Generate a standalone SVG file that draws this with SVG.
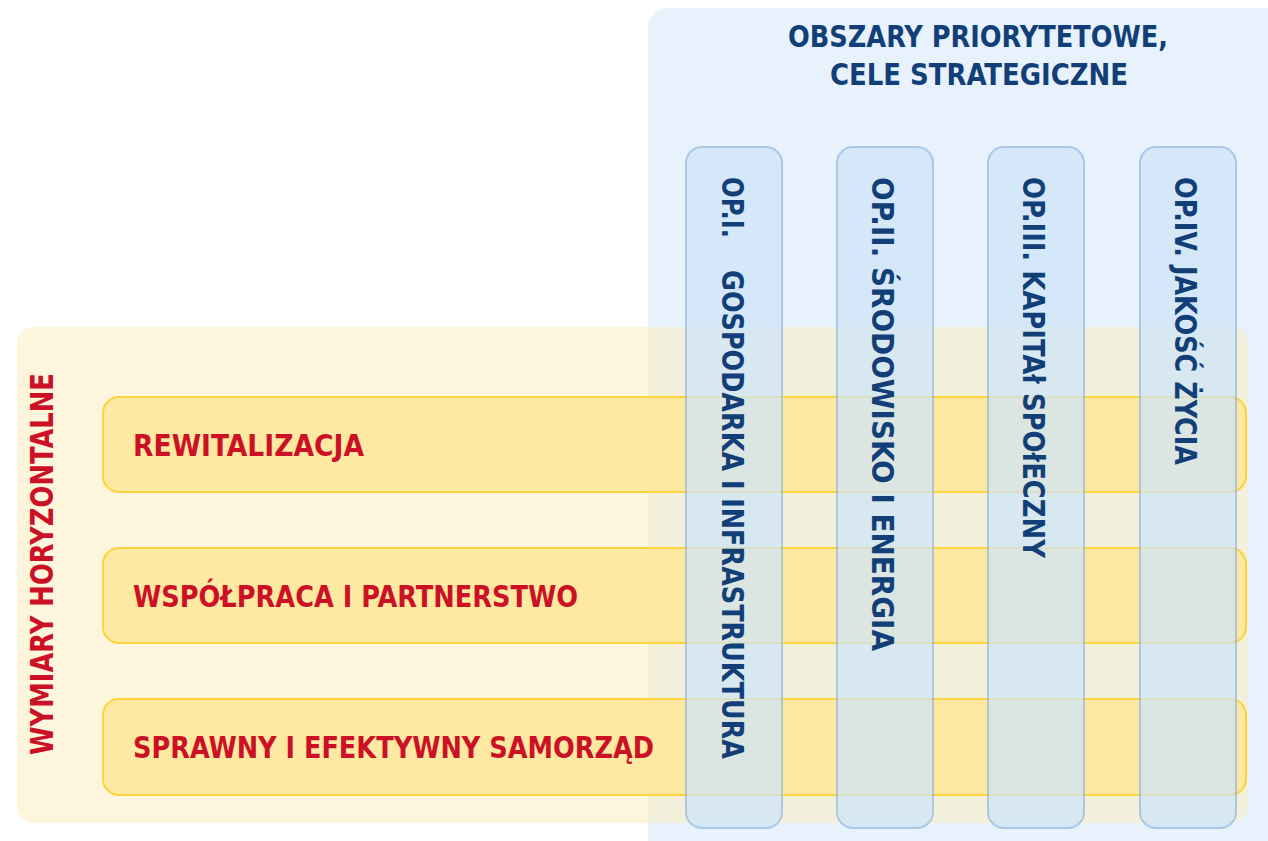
<svg xmlns="http://www.w3.org/2000/svg" width="1268" height="841" viewBox="0 0 1268 841">
<style>
.t{font-family:"DejaVu Sans Condensed","DejaVu Sans",sans-serif;font-weight:bold;font-stretch:condensed}
.blue{fill:#123f78}
.red{fill:#cc1126}
.band{fill:#fde89c;stroke:#fcd22e;stroke-width:2;opacity:0.92}
.col{fill:#cfe5fa;stroke:#94b8e0;stroke-width:2;opacity:0.72}
</style>
<rect width="1268" height="841" fill="#ffffff"/>
<g id="panel-obszary">
<rect x="648" y="8" width="650" height="860" rx="20" fill="#e8f2fc"/>
<text class="t blue" font-size="30" x="978" y="47" text-anchor="middle" textLength="380" lengthAdjust="spacingAndGlyphs">OBSZARY PRIORYTETOWE,</text>
<text class="t blue" font-size="30" x="979" y="85" text-anchor="middle" textLength="298" lengthAdjust="spacingAndGlyphs">CELE STRATEGICZNE</text>
</g>
<g id="panel-wymiary">
<rect x="17" y="327" width="1231" height="496" rx="16" fill="#fbedb9" opacity="0.5"/>
<text class="t red" font-size="32" transform="translate(53,755) rotate(-90)" textLength="382" lengthAdjust="spacingAndGlyphs">WYMIARY HORYZONTALNE</text>
</g>
<g id="band-rewitalizacja">
<rect class="band" x="103" y="397" width="1143" height="95" rx="16"/>
<text class="t red" font-size="30" x="133" y="456" textLength="231" lengthAdjust="spacingAndGlyphs">REWITALIZACJA</text>
</g>
<g id="band-wspolpraca">
<rect class="band" x="103" y="548" width="1143" height="95" rx="16"/>
<text class="t red" font-size="30" x="133" y="607" textLength="445" lengthAdjust="spacingAndGlyphs">WSPÓŁPRACA I PARTNERSTWO</text>
</g>
<g id="band-samorzad">
<rect class="band" x="103" y="699" width="1143" height="96" rx="16"/>
<text class="t red" font-size="30" x="133" y="758" textLength="521" lengthAdjust="spacingAndGlyphs">SPRAWNY I EFEKTYWNY SAMORZĄD</text>
</g>
<g id="op1">
<rect class="col" x="686" y="147" width="96" height="681" rx="16"/>
<text class="t blue" font-size="31" transform="translate(722,177) rotate(90)" textLength="61" lengthAdjust="spacingAndGlyphs">OP.I.</text>
<text class="t blue" font-size="31" transform="translate(722,270) rotate(90)" textLength="489" lengthAdjust="spacingAndGlyphs">GOSPODARKA I INFRASTRUKTURA</text>
</g>
<g id="op2">
<rect class="col" x="837" y="147" width="96" height="681" rx="16"/>
<text class="t blue" font-size="31" transform="translate(872,177) rotate(90)" textLength="474" lengthAdjust="spacingAndGlyphs">OP.II. ŚRODOWISKO I ENERGIA</text>
</g>
<g id="op3">
<rect class="col" x="988" y="147" width="96" height="681" rx="16"/>
<text class="t blue" font-size="31" transform="translate(1023,177) rotate(90)" textLength="381" lengthAdjust="spacingAndGlyphs">OP.III. KAPITAł SPOłECZNY</text>
</g>
<g id="op4">
<rect class="col" x="1140" y="147" width="96" height="681" rx="16"/>
<text class="t blue" font-size="31" transform="translate(1175,177) rotate(90)" textLength="288" lengthAdjust="spacingAndGlyphs">OP.IV. JAKOŚĆ ŻYCIA</text>
</g>
<g id="connectors"/>
</svg>
